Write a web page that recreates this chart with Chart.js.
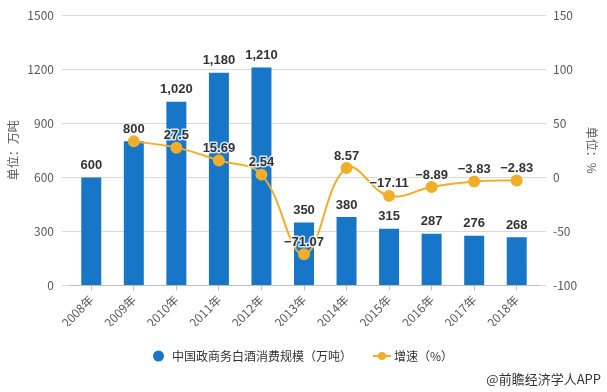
<!DOCTYPE html>
<html>
<head>
<meta charset="utf-8">
<script src="https://cdn.jsdelivr.net/npm/chart.js@4"></script>
<style>
  html, body { margin: 0; padding: 0; background: #fff; }
  #wrap { width: 607px; height: 392px; }
</style>
</head>
<body>
<div id="wrap"><canvas id="myChart"></canvas></div>
<script>
// data
var years = ["2008年", "2009年", "2010年", "2011年", "2012年", "2013年", "2014年", "2015年", "2016年", "2017年", "2018年"];
var consumption = [600, 800, 1020, 1180, 1210, 350, 380, 315, 287, 276, 268]; // 万吨
var growth = [null, 33.3, 27.5, 15.69, 2.54, -71.07, 8.57, -17.11, -8.89, -3.83, -2.83]; // %
var growthTagged = [false, false, true, true, true, true, true, true, true, true, true]; // 2009 has no label in the picture
var seriesNames = ["中国政商务白酒消费规模（万吨）", "增速（%）"];
var leftTicks = { min: 0, max: 1500, step: 300 };
var rightTicks = { min: -100, max: 150, step: 50 };

var barColor = "#1776c8";
var lineColor = "#f0ae2a";
var cjk = '"Noto Sans CJK SC", "Noto Sans", sans-serif';

function makeIcon(w, h, draw) {
  var c = document.createElement("canvas");
  c.width = w;
  c.height = h;
  draw(c.getContext("2d"));
  return c;
}

var barIcon = makeIcon(18, 12, function (g) {
  g.fillStyle = barColor;
  g.beginPath();
  g.arc(7.5, 6, 5.5, 0, Math.PI * 2);
  g.fill();
});

var lineIcon = makeIcon(18, 10, function (g) {
  g.strokeStyle = lineColor;
  g.lineWidth = 2;
  g.beginPath();
  g.moveTo(0, 5);
  g.lineTo(18, 5);
  g.stroke();
  g.fillStyle = lineColor;
  g.beginPath();
  g.arc(9, 5, 4, 0, Math.PI * 2);
  g.fill();
});

// value labels over bars and points, plus the source note
var valueLabels = {
  id: "valueLabels",
  afterDatasetsDraw: function (chart) {
    var ctx = chart.ctx;
    ctx.save();
    ctx.textAlign = "center";
    ctx.textBaseline = "middle";
    ctx.font = 'bold 13px "Liberation Sans", Arial, sans-serif';
    ctx.fillStyle = "#333";

    chart.getDatasetMeta(0).data.forEach(function (bar, i) {
      ctx.fillText(consumption[i].toLocaleString("en-US"), bar.x, bar.y - 12);
    });

    ctx.lineJoin = "round";
    ctx.lineWidth = 3;
    ctx.strokeStyle = "rgba(255,255,255,0.8)";
    chart.getDatasetMeta(1).data.forEach(function (pt, i) {
      if (!growthTagged[i] || growth[i] == null) return;
      var txt = String(growth[i]).replace("-", "\u2212");
      ctx.strokeText(txt, pt.x, pt.y - 12);
      ctx.fillText(txt, pt.x, pt.y - 12);
    });

    ctx.textAlign = "right";
    ctx.font = "13px " + cjk;
    ctx.fillStyle = "#333";
    ctx.fillText("@前瞻经济学人APP", 601, 379);
    ctx.restore();
  }
};

new Chart("myChart", {
  type: "bar",
  data: {
    labels: years,
    datasets: [
      {
        type: "bar",
        label: seriesNames[0],
        data: consumption,
        backgroundColor: barColor,
        barPercentage: 0.47,
        categoryPercentage: 1,
        yAxisID: "y",
        order: 1
      },
      {
        type: "line",
        label: seriesNames[1],
        data: growth,
        borderColor: lineColor,
        backgroundColor: lineColor,
        borderWidth: 2,
        pointRadius: 5,
        pointBackgroundColor: lineColor,
        pointBorderColor: lineColor,
        tension: 0.4,
        yAxisID: "y2",
        order: 0
      }
    ]
  },
  options: {
    responsive: true,
    maintainAspectRatio: false,
    animation: false,
    devicePixelRatio: 1,
    layout: { padding: { top: 15, bottom: 20, left: 0, right: 0 } },
    plugins: {
      tooltip: { enabled: false },
      legend: {
        position: "bottom",
        labels: {
          usePointStyle: true,
          padding: 24,
          color: "#333",
          font: { size: 12, family: cjk },
          generateLabels: function () {
            return [
              { text: seriesNames[0], pointStyle: barIcon, fillStyle: barColor, strokeStyle: barColor, lineWidth: 0, fontColor: "#333", hidden: false, datasetIndex: 0 },
              { text: seriesNames[1], pointStyle: lineIcon, fillStyle: lineColor, strokeStyle: lineColor, lineWidth: 0, fontColor: "#333", hidden: false, datasetIndex: 1 }
            ];
          }
        }
      }
    },
    scales: {
      x: {
        afterFit: function (scale) { scale.height -= 6; },
        grid: { display: true, drawOnChartArea: false, offset: false, tickLength: 5, color: "#bfbfbf" },
        border: { color: "#bfbfbf" },
        ticks: { color: "#595959", font: { size: 12, family: cjk }, minRotation: 45, maxRotation: 45, padding: 2 }
      },
      y: {
        position: "left",
        min: leftTicks.min,
        max: leftTicks.max,
        afterFit: function (scale) { scale.width = 70; },
        grid: { color: "#d9d9d9", tickLength: 8 },
        border: { display: false },
        ticks: {
          stepSize: leftTicks.step,
          padding: 8,
          color: "#595959",
          font: { size: 12, family: cjk },
          callback: function (v) { return String(v); }
        },
        title: { display: true, text: "单位：万吨", color: "#595959", font: { size: 12, family: cjk }, padding: { top: 6, bottom: 0 } }
      },
      y2: {
        position: "right",
        min: rightTicks.min,
        max: rightTicks.max,
        afterFit: function (scale) { scale.width = 69; },
        grid: { drawOnChartArea: false, color: "#d9d9d9", tickLength: 8 },
        border: { display: false },
        ticks: {
          stepSize: rightTicks.step,
          padding: 7,
          color: "#595959",
          font: { size: 12, family: cjk },
          callback: function (v) { return String(v); }
        },
        title: { display: true, text: "单位：%", color: "#595959", font: { size: 12, family: cjk }, padding: { top: 8, bottom: 0 } }
      }
    }
  },
  plugins: [valueLabels]
});
</script>
</body>
</html>
